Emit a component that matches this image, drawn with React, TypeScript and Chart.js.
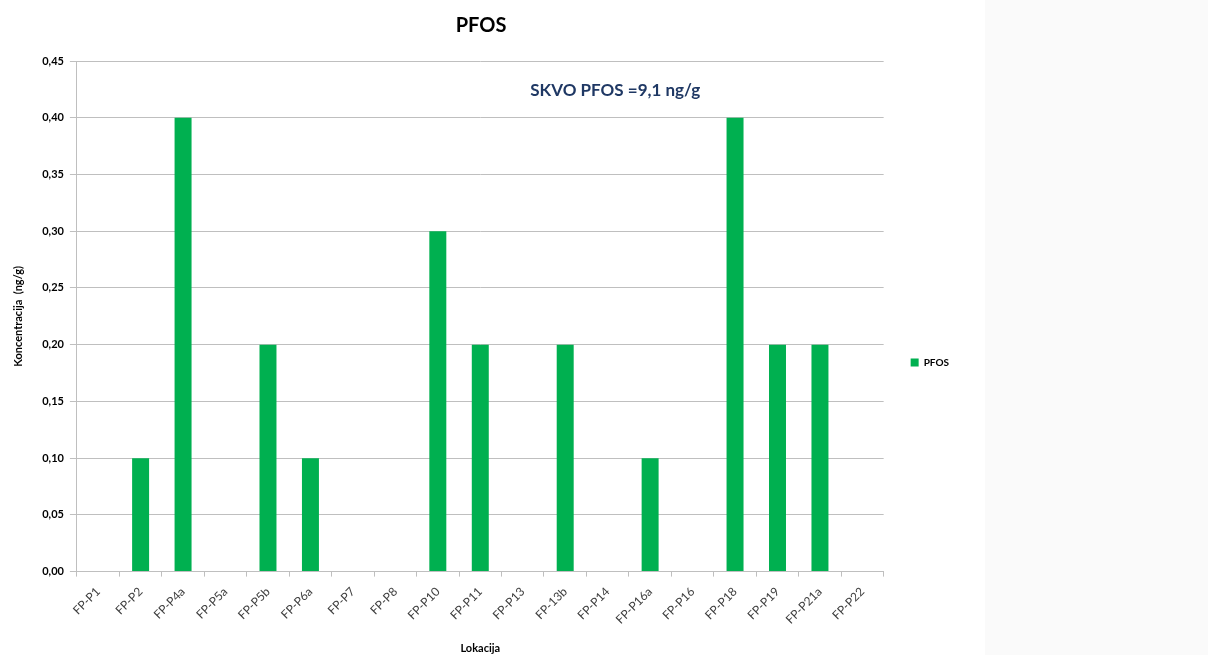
import React, { useEffect, useRef } from "react";
import { Chart, registerables } from "chart.js";

Chart.register(...registerables);

const categories = [
  "FP-P1", "FP-P2", "FP-P4a", "FP-P5a", "FP-P5b", "FP-P6a", "FP-P7", "FP-P8",
  "FP-P10", "FP-P11", "FP-P13", "FP-13b", "FP-P14", "FP-P16a", "FP-P16",
  "FP-P18", "FP-P19", "FP-P21a", "FP-P22",
];
const pfosValues = [0, 0.1, 0.4, 0, 0.2, 0.1, 0, 0, 0.3, 0.2, 0, 0.2, 0, 0.1, 0, 0.4, 0.2, 0.2, 0];
const seriesName = "PFOS";
const chartTitle = "PFOS";
const yTitle = "Koncentracija  (ng/g)";
const xTitle = "Lokacija";
const noteText = "SKVO PFOS =9,1 ng/g";

const FONT = "Lato, 'Open Sans', 'Liberation Sans', sans-serif";

const notePlugin = {
  id: "note",
  afterLayout(chart: any) {
    if (chart.legend) {
      chart.legend.top += 30;
      chart.legend.bottom += 30;
      chart.legend.left += 17;
      chart.legend.right += 17;
    }
    if (chart.titleBlock) {
      chart.titleBlock.left += 8;
    }
  },
  afterDraw(chart: any) {
    const { ctx, chartArea } = chart;
    ctx.save();
    ctx.font = `bold 17px ${FONT}`;
    ctx.fillStyle = "#1f3864";
    ctx.textBaseline = "middle";
    ctx.textAlign = "left";
    const x = chartArea.left + (chartArea.right - chartArea.left) * 0.562;
    const y = chartArea.top + (chartArea.bottom - chartArea.top) * 0.057;
    ctx.fillText(noteText, x, y);
    ctx.restore();
  },
};

export default function App() {
  const ref = useRef<HTMLCanvasElement>(null);
  useEffect(() => {
    if (!ref.current) return;
    const chart = new Chart(ref.current, {
      type: "bar",
      data: {
        labels: categories,
        datasets: [
          {
            label: seriesName,
            data: pfosValues,
            backgroundColor: "#00b050",
            borderWidth: 0,
            categoryPercentage: 1,
            barPercentage: 0.4,
          },
        ],
      },
      options: {
        animation: false,
        responsive: false,
        maintainAspectRatio: false,
        layout: { padding: { top: 10, right: 43, bottom: 0, left: 12 } },
        plugins: {
          title: {
            display: true,
            text: chartTitle,
            color: "#000",
            font: { family: FONT, size: 20, weight: "bold" },
            padding: { top: 4, bottom: 23 },
          },
          legend: {
            display: true,
            position: "right",
            labels: {
              boxWidth: 8,
              boxHeight: 8,
              padding: 10,
              color: "#000",
              font: { family: FONT, size: 10, weight: "bold" },
            },
          },
          tooltip: { enabled: false },
        },
        scales: {
          x: {
            grid: {
              display: true,
              drawOnChartArea: false,
              drawTicks: true,
              tickLength: 5,
              color: "#bfbfbf",
              offset: true,
            },
            border: { display: true, color: "#bfbfbf", width: 1 },
            ticks: {
              minRotation: 45,
              maxRotation: 45,
              color: "#404040",
              font: { family: FONT, size: 12 },
              padding: 8,
            },
            title: {
              display: true,
              text: xTitle,
              color: "#000",
              font: { family: FONT, size: 11, weight: "bold" },
              padding: { top: 7, bottom: 0 },
            },
          },
          y: {
            min: 0,
            max: 0.45,
            grid: {
              color: "#bfbfbf",
              drawTicks: true,
              tickLength: 7,
            },
            border: { display: true, color: "#bfbfbf", width: 1 },
            ticks: {
              stepSize: 0.05,
              color: "#000",
              font: { family: FONT, size: 11, weight: "bold" },
              padding: 6,
              callback: (v: any) => (Math.round(Number(v) * 100) / 100).toFixed(2).replace(".", ","),
            },
            title: {
              display: true,
              text: yTitle,
              color: "#000",
              font: { family: FONT, size: 11, weight: "bold" },
              padding: { top: 0, bottom: 11 },
            },
          },
        },
      },
      plugins: [notePlugin],
    });
    return () => chart.destroy();
  }, []);
  return (
    <div style={{ position: "absolute", left: 0, top: 0, width: 1208, height: 655, background: "#fff" }}>
      <canvas ref={ref} width={985} height={655} style={{ position: "absolute", left: 0, top: 0, width: 985, height: 655 }} />
      <div style={{ position: "absolute", left: 985, top: 0, width: 223, height: 655, background: "#fafafa" }} />
    </div>
  );
}
